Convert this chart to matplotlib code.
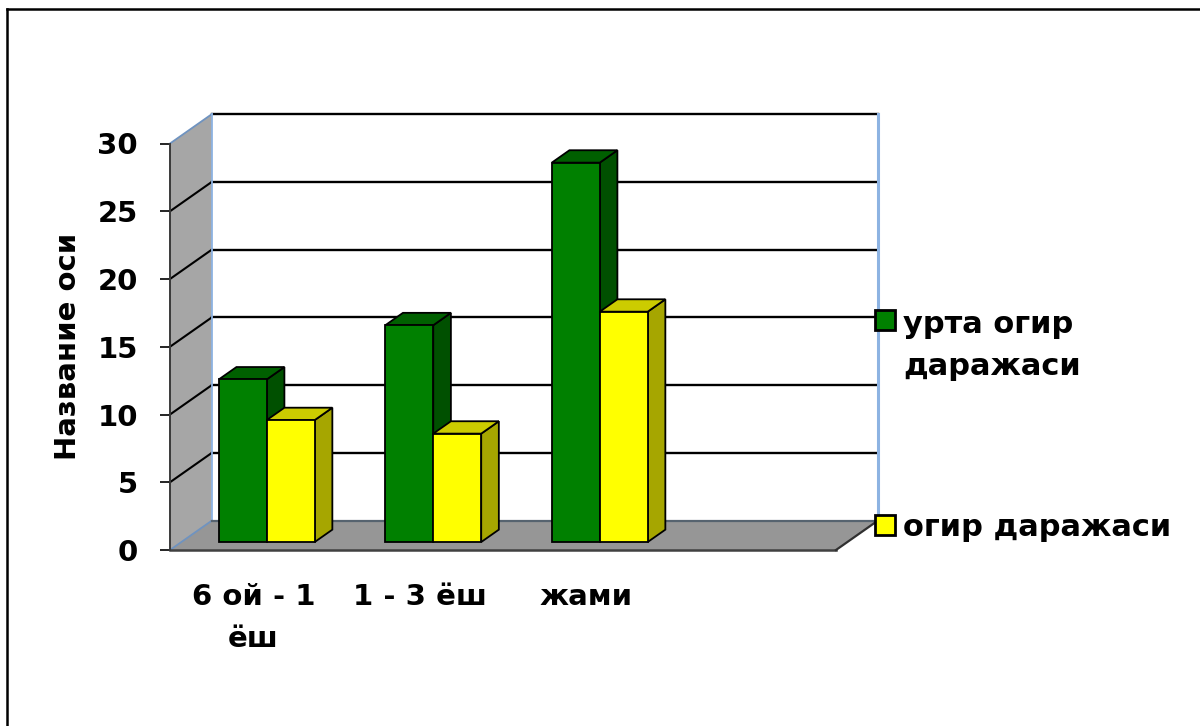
import matplotlib
matplotlib.use("Agg")
import matplotlib.pyplot as plt
from matplotlib.patches import Polygon, Rectangle
from matplotlib.transforms import IdentityTransform
from matplotlib.lines import Line2D

# --- data -------------------------------------------------------------
categories = ["6 ой - 1\nёш", "1 - 3 ёш", "жами", ""]
series_names = ["урта огир\nдаражаси", "огир даражаси"]
moderate = [12, 16, 28]      # урта огир даражаси
severe = [9, 8, 17]          # огир даражаси
y_ticks = [0, 5, 10, 15, 20, 25, 30]
y_title = "Название оси"

# --- style ------------------------------------------------------------
FONT = dict(family="DejaVu Sans", weight="bold", size=21)
LEGEND_FONT = dict(family="DejaVu Sans", weight="bold", size=22)
face_colors = [("#008000", "#006000", "#005000"),   # front, top, side
               ("#ffff00", "#cccc00", "#a6a600")]
WALL = "#a6a6a6"
FLOOR = "#969696"
EDGE_BLUE = "#8db3e2"

W_PX, H_PX, DPI = 1200, 726, 100
fig = plt.figure(figsize=(W_PX / DPI, H_PX / DPI), dpi=DPI)
fig.patch.set_facecolor("white")

# front plane of the 3-D box, in figure pixels
x_left, x_right = 170, 836
y_zero, y_top = 550, 143.5
ax = fig.add_axes([x_left / W_PX, 1 - y_zero / H_PX,
                   (x_right - x_left) / W_PX, (y_zero - y_top) / H_PX])
ax.set_xlim(0, len(categories))
ax.set_ylim(y_ticks[0], y_ticks[-1])
ax.patch.set_visible(False)
for side in ("top", "right", "bottom"):
    ax.spines[side].set_visible(False)
ax.spines["left"].set_color("#3a3a3a")
ax.spines["left"].set_linewidth(1.4)
ax.spines["left"].set_zorder(6)

# depth of the box in display pixels (x to the right, y upwards)
DX, DY = 42, 29.5
ID = IdentityTransform()


def proj(x, v, d):
    X, Y = ax.transData.transform((x, v))
    return (X + DX * d, Y + DY * d)


def face(pts, fc, ec="black", lw=1.3, z=3):
    ax.add_patch(Polygon([proj(*p) for p in pts], closed=True, facecolor=fc,
                         edgecolor=ec, linewidth=lw, transform=ID,
                         clip_on=False, zorder=z, joinstyle="miter"))


def seg(p0, p1, color="black", lw=1.5, z=2):
    a, b = proj(*p0), proj(*p1)
    ax.add_line(Line2D([a[0], b[0]], [a[1], b[1]], color=color, lw=lw,
                       transform=ID, clip_on=False, zorder=z))


n = len(categories)
vmax = y_ticks[-1]

# walls and floor
face([(0, 0, 0), (0, vmax, 0), (0, vmax, 1), (0, 0, 1)], WALL, ec="none", z=1)
face([(0, 0, 0), (n, 0, 0), (n, 0, 1), (0, 0, 1)], FLOOR, ec="none", z=1)

for v in y_ticks[1:]:
    seg((0, v, 1), (n, v, 1), color="black", lw=1.7)
    if v < vmax:
        seg((0, v, 0), (0, v, 1), color="black", lw=1.5)
seg((0, vmax, 0), (0, vmax, 1), color="#6f93c0", lw=1.3)
seg((0, 0, 0), (0, 0, 1), color="#6f93c0", lw=1.3)
seg((0, 0, 1), (0, vmax, 1), color=EDGE_BLUE, lw=1.3)
seg((n, 0, 1), (n, vmax, 1), color=EDGE_BLUE, lw=2.2)
seg((0, 0, 1), (n, 0, 1), color="#56636f", lw=1.6)
seg((0, 0, 0), (n, 0, 0), color="#404040", lw=1.8)
seg((n, 0, 0), (n, 0, 1), color="#303030", lw=1.6)

# bars
GAP, BW = 0.225, 0.288
D0, D1 = 0.27, 0.69
for i in range(len(moderate)):
    for j, vals in enumerate((moderate, severe)):
        x0 = i + GAP + j * BW
        x1 = x0 + BW
        v = vals[i]
        front, top, sidec = face_colors[j]
        face([(x1, 0, D0), (x1, v, D0), (x1, v, D1), (x1, 0, D1)], sidec, z=4)
        face([(x0, v, D0), (x1, v, D0), (x1, v, D1), (x0, v, D1)], top, z=4)
        face([(x0, 0, D0), (x1, 0, D0), (x1, v, D0), (x0, v, D0)], front, z=4)

# axes ticks and labels
ax.set_yticks(y_ticks)
ax.set_yticklabels([str(t) for t in y_ticks], fontdict=FONT)
ax.tick_params(axis="y", length=7.2, width=1.2, color="black", pad=16)
ax.set_xticks([k + 0.5 for k in range(n)])
ax.set_xticklabels(categories, fontdict=FONT, linespacing=1.6)
ax.tick_params(axis="x", length=0, pad=24)
ax.set_ylabel(y_title, fontdict=FONT, va="center")
ax.yaxis.set_label_coords(-0.153, 0.5)

# legend: (square centre y, text x, text centre y) in pixels from the top
legend_rows = [(320, 903, 345.5), (525, 903, 527)]
for (sq_y, tx, ty), name, cols in zip(legend_rows, series_names, face_colors):
    fig.add_artist(Rectangle((875 / W_PX, 1 - (sq_y + 10) / H_PX),
                             20 / W_PX, 20 / H_PX, facecolor=cols[0],
                             edgecolor="black", linewidth=2,
                             transform=fig.transFigure, zorder=7))
    fig.text(tx / W_PX, 1 - ty / H_PX, name, ha="left", va="center",
             fontdict=LEGEND_FONT, linespacing=1.6)

# outer frame of the chart area
fig.add_artist(Line2D([7 / W_PX, 1.0], [1 - 8.5 / H_PX, 1 - 8.5 / H_PX],
                      color="black", lw=1.8, transform=fig.transFigure))
fig.add_artist(Line2D([7 / W_PX, 7 / W_PX], [1 - 8.5 / H_PX, 0.0],
                      color="black", lw=1.8, transform=fig.transFigure))

fig.savefig("out.png", dpi=DPI)
